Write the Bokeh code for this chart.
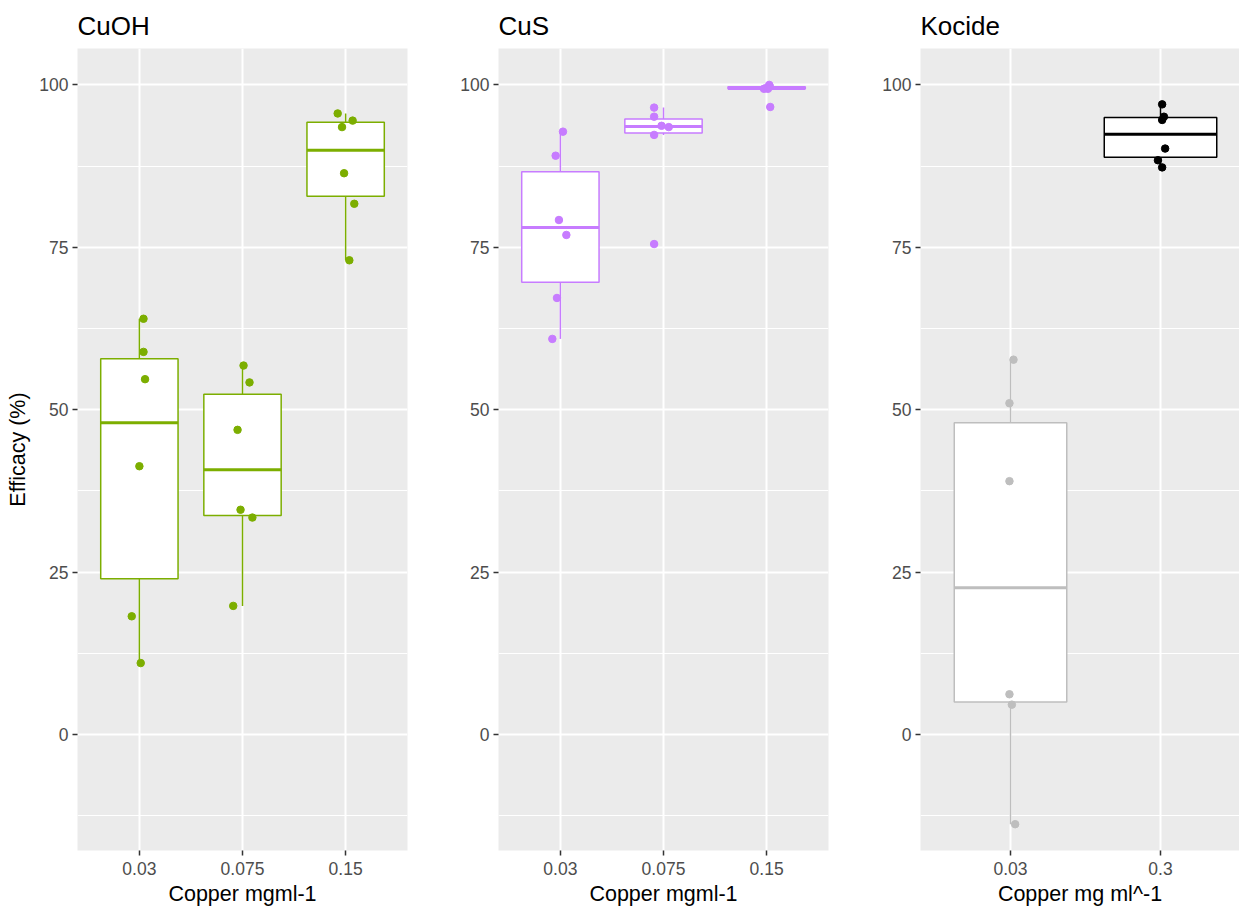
import numpy as np
from bokeh.plotting import figure
from bokeh.layouts import row
from bokeh.models import Range1d, FixedTicker
from bokeh.embed import file_html
from bokeh.resources import INLINE

# ---------------- data ----------------
cuoh_doses = ["0.03", "0.075", "0.15"]
cuoh_003 = [64.0, 58.9, 54.7, 41.3, 18.2, 11.0]
cuoh_0075 = [56.8, 54.2, 46.9, 34.6, 33.4, 19.8]
cuoh_015 = [95.6, 94.5, 93.5, 86.4, 81.7, 73.0]
cuoh_jit_003 = [0.04, 0.04, 0.055, 0.0, -0.074, 0.013]
cuoh_jit_0075 = [0.01, 0.068, -0.048, -0.019, 0.096, -0.09]
cuoh_jit_015 = [-0.077, 0.068, -0.035, -0.015, 0.084, 0.036]

cus_doses = ["0.03", "0.075", "0.15"]
cus_003 = [92.8, 89.1, 79.2, 76.9, 67.2, 60.9]
cus_0075 = [96.5, 95.1, 93.7, 93.5, 92.3, 75.5]
cus_015 = [100.0, 99.8, 99.5, 99.4, 99.4, 96.6]
cus_jit_003 = [0.025, -0.046, -0.014, 0.058, -0.033, -0.078]
cus_jit_0075 = [-0.091, -0.091, -0.019, 0.051, -0.091, -0.091]
cus_jit_015 = [0.025, 0.03, -0.007, -0.026, 0.013, 0.035]

kocide_doses = ["0.03", "0.3"]
kocide_003 = [57.7, 51.0, 39.0, 6.2, 4.6, -13.8]
kocide_03 = [97.0, 95.1, 94.6, 90.2, 88.4, 87.3]
kocide_jit_003 = [0.02, -0.007, -0.007, -0.007, 0.009, 0.031]
kocide_jit_03 = [0.011, 0.023, 0.011, 0.031, -0.017, 0.011]

y_ticks = [0, 25, 50, 75, 100]
y_minor = [-12.5, 12.5, 37.5, 62.5, 87.5]

GREEN = "#7CAE00"
PURPLE = "#C77CFF"
GREY = "#BEBEBE"
BLACK = "#000000"
FONT = "Liberation Sans"


def make_panel(title, doses, groups, jitters, colors, frame_w, x_end,
               b_left, b_right, ylabel=None):
    p = figure(output_backend="svg", toolbar_location=None,
               frame_width=frame_w, frame_height=802,
               min_border_left=b_left, min_border_right=b_right,
               min_border_top=47, min_border_bottom=60,
               x_range=Range1d(0.4, x_end), y_range=Range1d(-17.85, 105.6))
    p.background_fill_color = "#EBEBEB"
    p.border_fill_color = "white"
    p.outline_line_color = None

    p.title.text = title
    p.title.text_font = FONT
    p.title.text_font_size = "26px"
    p.title.text_font_style = "normal"
    p.title.text_color = "black"
    p.title.align = "left"
    p.title.offset = 0
    p.title.standoff = 16

    xpos = list(range(1, len(doses) + 1))
    p.xaxis.ticker = FixedTicker(ticks=xpos)
    p.xgrid.ticker = FixedTicker(ticks=xpos)
    p.xaxis.major_label_overrides = {i: d for i, d in zip(xpos, doses)}
    yt = FixedTicker(ticks=y_ticks, minor_ticks=y_minor)
    p.yaxis.ticker = yt
    p.ygrid.ticker = yt

    p.grid.grid_line_color = "white"
    p.grid.grid_line_width = 2
    p.ygrid.minor_grid_line_color = "white"
    p.ygrid.minor_grid_line_width = 1

    for ax in (p.xaxis, p.yaxis):
        ax.axis_line_color = None
        ax.major_tick_line_color = "#333333"
        ax.major_tick_line_width = 1.5
        ax.major_tick_out = 5
        ax.major_tick_in = 0
        ax.minor_tick_line_color = None
        ax.major_label_text_color = "#4D4D4D"
        ax.major_label_text_font = FONT
        ax.major_label_text_font_size = "17.5px"
        ax.major_label_standoff = 4
        ax.axis_label_text_font = FONT
        ax.axis_label_text_font_size = "21.5px"
        ax.axis_label_text_font_style = "normal"
        ax.axis_label_text_color = "black"
    p.xaxis.major_label_standoff = 6
    p.xaxis.axis_label_standoff = 4
    p.xaxis.axis_label = "Copper mg ml^-1" if len(doses) == 2 else "Copper mgml-1"
    if ylabel:
        p.yaxis.axis_label = ylabel
        p.yaxis.axis_label_standoff = 6
    else:
        p.yaxis.axis_label = None

    half = 0.375
    for x, vals, jit, col in zip(xpos, groups, jitters, colors):
        v = np.array(vals, dtype=float)
        q1, med, q3 = np.percentile(v, [25, 50, 75])
        iqr = q3 - q1
        lo = v[v >= q1 - 1.5 * iqr].min()
        hi = v[v <= q3 + 1.5 * iqr].max()
        # whiskers
        p.segment(x0=[x, x], y0=[q3, q1], x1=[x, x], y1=[hi, lo],
                  line_color=col, line_width=1.5)
        # box
        p.quad(left=[x - half], right=[x + half], bottom=[q1], top=[q3],
               fill_color="white", line_color=col, line_width=1.5)
        # median
        p.segment(x0=[x - half], y0=[med], x1=[x + half], y1=[med],
                  line_color=col, line_width=3)
        # jittered points
        p.scatter(x=[x + j for j in jit], y=vals, size=7.5,
                  fill_color=col, line_color=col)
    return p


p1 = make_panel("CuOH", cuoh_doses, [cuoh_003, cuoh_0075, cuoh_015],
                [cuoh_jit_003, cuoh_jit_0075, cuoh_jit_015],
                [GREEN, GREEN, GREEN], 330, 3.6, 77, 33, ylabel="Efficacy (%)")
p2 = make_panel("CuS", cus_doses, [cus_003, cus_0075, cus_015],
                [cus_jit_003, cus_jit_0075, cus_jit_015],
                [PURPLE, PURPLE, PURPLE], 330, 3.6, 58, 34)
p3 = make_panel("Kocide", kocide_doses, [kocide_003, kocide_03],
                [kocide_jit_003, kocide_jit_03],
                [GREY, BLACK], 319, 0.4 + 319 / 150.0, 58, 0)

layout = row(p1, p2, p3)
open("out.html", "w").write(file_html(layout, INLINE))
